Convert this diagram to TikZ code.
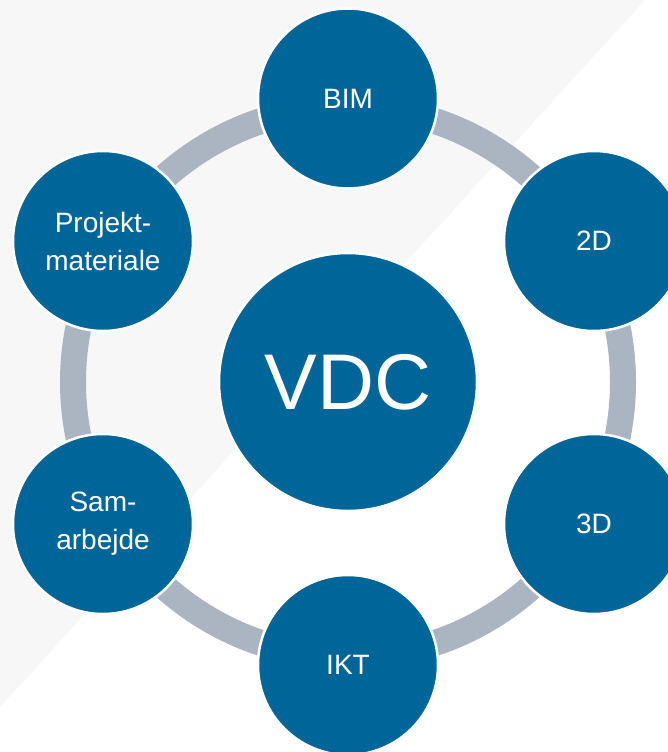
\documentclass[tikz,border=0pt]{standalone}
\usepackage{fontspec}
\setmainfont{Liberation Sans}
\definecolor{bgband}{HTML}{F7F7F7}
\definecolor{ringgray}{HTML}{AAB5C1}
\definecolor{nodeblue}{HTML}{00669A}
\tikzset{
  hub/.style={circle, fill=nodeblue, draw=white, line width=2.5pt, minimum size=258pt, inner sep=0pt, text=white, font=\fontsize{79}{79}\selectfont},
  sat/.style={circle, fill=nodeblue, draw=white, line width=2.5pt, minimum size=180pt, inner sep=0pt, text=white, align=center, font=\fontsize{28}{38}\selectfont},
  ringline/.style={draw=ringgray, line width=26pt}
}
\begin{document}
\begin{tikzpicture}[x=1pt,y=-1pt]
\useasboundingbox (0,0) rectangle (667,752);
\fill[white] (0,0) rectangle (667,752);
\fill[bgband] (0,0) -- (645,0) -- (0,707) -- cycle;
\coordinate (c) at (348,382);
\draw[ringline] (c) circle[radius=275];
\node[hub] (vdc) at (c) {VDC};
\node[sat] (bim) at (348,98.5) {BIM};
\node[sat] (d2) at (594,241) {2D};
\node[sat] (d3) at (594,524) {3D};
\node[sat] (ikt) at (348,665) {IKT};
\node[sat] (sam) at (103,524) {Sam-\\arbejde};
\node[sat] (proj) at (103,241) {Projekt-\\materiale};
\end{tikzpicture}
\end{document}
